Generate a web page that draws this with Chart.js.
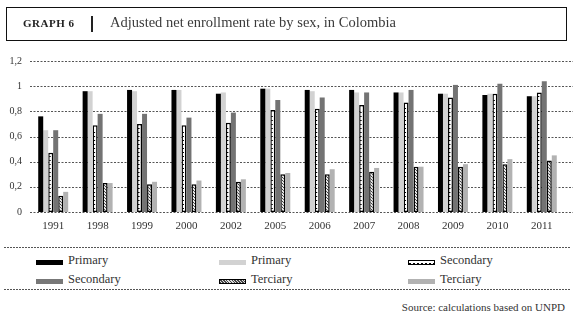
<!DOCTYPE html>
<html>
<head>
<meta charset="utf-8">
<script src="https://cdn.jsdelivr.net/npm/chart.js@4/dist/chart.umd.min.js"></script>
<style>
  body { margin: 0; background: #fff; }
  #wrap { position: relative; width: 577px; height: 318px; font-family: "Liberation Serif", "DejaVu Serif", serif; color: #333; }
  #chart { position: absolute; left: 0; top: 0; }
  .titlebox { position: absolute; left: 6px; top: 7px; width: 559px; height: 32px; border: 1.5px solid #111; }
  .gnum { position: absolute; left: 16px; top: 9px; font-size: 11px; font-weight: bold; letter-spacing: 0.5px; color: #222; }
  .bar { position: absolute; left: 84px; top: 8px; width: 1.5px; height: 16px; background: #222; }
  .ttl { position: absolute; left: 103px; top: 6px; font-size: 14.5px; color: #3a3a3a; }
  .dots { position: absolute; left: 4px; width: 566px; height: 1px; background: repeating-linear-gradient(90deg, #555 0 2px, transparent 2px 3px); }
  .lg { position: absolute; font-size: 12.5px; color: #333; white-space: nowrap; }
  .sw { position: absolute; width: 27px; height: 5px; box-sizing: border-box; }
  .src { position: absolute; right: 12px; top: 301px; font-size: 11px; color: #333; }
</style>
</head>
<body>
<div id="wrap">
  <canvas id="chart" width="577" height="240"></canvas>
  <div class="titlebox">
    <span class="gnum">GRAPH 6</span>
    <span class="bar"></span>
    <span class="ttl">Adjusted net enrollment rate by sex, in Colombia</span>
  </div>
  <div class="dots" style="top:247px"></div>
  <div id="legend"></div>
  <div class="dots" style="top:289px"></div>
  <div class="src">Source: calculations based on UNPD</div>
</div>
<script>
// Data for the chart
const years = ["1991", "1998", "1999", "2000", "2002", "2005", "2006", "2007", "2008", "2009", "2010", "2011"];
const seriesNames = ["Primary", "Primary", "Secondary", "Secondary", "Terciary", "Terciary"];
const primaryA = [0.76, 0.96, 0.97, 0.97, 0.94, 0.98, 0.97, 0.97, 0.95, 0.94, 0.93, 0.92];
const primaryB = [0.65, 0.96, 0.96, 0.97, 0.95, 0.98, 0.96, 0.95, 0.95, 0.94, 0.94, 0.92];
const secondaryA = [0.47, 0.69, 0.70, 0.69, 0.71, 0.81, 0.82, 0.85, 0.87, 0.91, 0.94, 0.95];
const secondaryB = [0.65, 0.78, 0.78, 0.75, 0.79, 0.89, 0.91, 0.95, 0.97, 1.01, 1.02, 1.04];
const terciaryA = [0.13, 0.23, 0.22, 0.22, 0.24, 0.30, 0.30, 0.32, 0.36, 0.36, 0.38, 0.41];
const terciaryB = [0.16, 0.23, 0.24, 0.25, 0.26, 0.31, 0.34, 0.35, 0.36, 0.38, 0.42, 0.45];
const yTicks = [0, 0.2, 0.4, 0.6, 0.8, 1, 1.2];

// hatch pattern for the tertiary bars
function hatch() {
  const c = document.createElement('canvas');
  c.width = 3; c.height = 3;
  const g = c.getContext('2d');
  g.fillStyle = '#e8e8e8';
  g.fillRect(0, 0, 3, 3);
  g.fillStyle = '#444';
  g.fillRect(0, 0, 1, 1);
  g.fillRect(1, 1, 1, 1);
  g.fillRect(2, 2, 1, 1);
  return g.createPattern(c, 'repeat');
}

const fills = ['#000000', '#d2d2d2', '#ffffff', '#737373', hatch(), '#b2b2b2'];
const borders = [0, 0, 1.5, 0, 1.5, 0];
const legendCss = [
  'background:#000',
  'background:#d2d2d2',
  'background:repeating-linear-gradient(90deg,#000 0 2px,#fff 2px 4px) 0 1.5px/100% 1px no-repeat,#fff;border:1.5px solid #000',
  'background:#777',
  'background:repeating-linear-gradient(45deg,#444 0 1px,#ddd 1px 2px);border:1px solid #000',
  'background:#b2b2b2'
];
const values = [primaryA, primaryB, secondaryA, secondaryB, terciaryA, terciaryB];

const data = {
  labels: years,
  datasets: values.map((v, i) => ({
    label: seriesNames[i],
    data: v,
    backgroundColor: fills[i],
    borderColor: '#000',
    borderWidth: borders[i],
    borderSkipped: false,
    barPercentage: 1,
    categoryPercentage: 0.675
  }))
};

// dotted grid lines, a bit wider than the plot area like the original
const dottedGrid = {
  id: 'dottedGrid',
  beforeDatasetsDraw(chart) {
    const ctx = chart.ctx, y = chart.scales.y;
    ctx.save();
    ctx.strokeStyle = '#555';
    ctx.lineWidth = 1;
    ctx.setLineDash([2, 1.5]);
    yTicks.forEach(t => {
      const py = Math.round(y.getPixelForValue(t)) + 0.5;
      ctx.beginPath();
      ctx.moveTo(30, py);
      ctx.lineTo(573, py);
      ctx.stroke();
    });
    ctx.restore();
  },
  afterDatasetsDraw(chart) {
    // small ladder marks inside the white secondary bars
    const ctx = chart.ctx;
    const meta = chart.getDatasetMeta(2);
    ctx.save();
    ctx.fillStyle = '#000';
    meta.data.forEach(b => {
      const left = b.x - b.width / 2;
      for (let yy = b.base - 4; yy > b.y + 3; yy -= 4) {
        ctx.fillRect(left + 1, yy, 1.5, 1);
      }
    });
    ctx.restore();
  }
};

const config = {
  type: 'bar',
  data: data,
  plugins: [dottedGrid],
  options: {
    responsive: false,
    animation: false,
    layout: { padding: { top: 61, right: 13, left: 0, bottom: 0 } },
    plugins: { legend: { display: false }, tooltip: { enabled: false } },
    scales: {
      x: {
        grid: { display: false, drawTicks: false },
        border: { display: false },
        ticks: { padding: 8, color: '#333', font: { family: 'Liberation Serif', size: 11 } },
        afterFit: s => { s.height = 28; }
      },
      y: {
        min: 0,
        max: 1.2,
        afterBuildTicks: s => { s.ticks = yTicks.map(v => ({ value: v })); },
        grid: { display: false, drawTicks: false },
        border: { display: false },
        ticks: {
          padding: 9,
          color: '#333',
          font: { family: 'Liberation Serif', size: 10 },
          callback: v => String(Math.round(v * 10) / 10).replace('.', ',')
        },
        afterFit: s => { s.width = 31; }
      }
    }
  }
};

// html legend in three fixed columns
const cols = [36, 219, 408];
const rows = [262, 281];
const lg = document.getElementById('legend');
seriesNames.forEach((name, i) => {
  const cx = cols[i % 3], cy = rows[Math.floor(i / 3)];
  const sw = document.createElement('div');
  sw.className = 'sw';
  sw.style.cssText = 'left:' + cx + 'px;top:' + (cy - 2) + 'px;' + legendCss[i];
  lg.appendChild(sw);
  const t = document.createElement('div');
  t.className = 'lg';
  t.style.left = (cx + 32) + 'px';
  t.style.top = (cy - 9) + 'px';
  t.textContent = name;
  lg.appendChild(t);
});

window.addEventListener('DOMContentLoaded', () => {
  const enrollmentChart = new Chart(document.getElementById('chart'), config);
});
</script>
</body>
</html>
